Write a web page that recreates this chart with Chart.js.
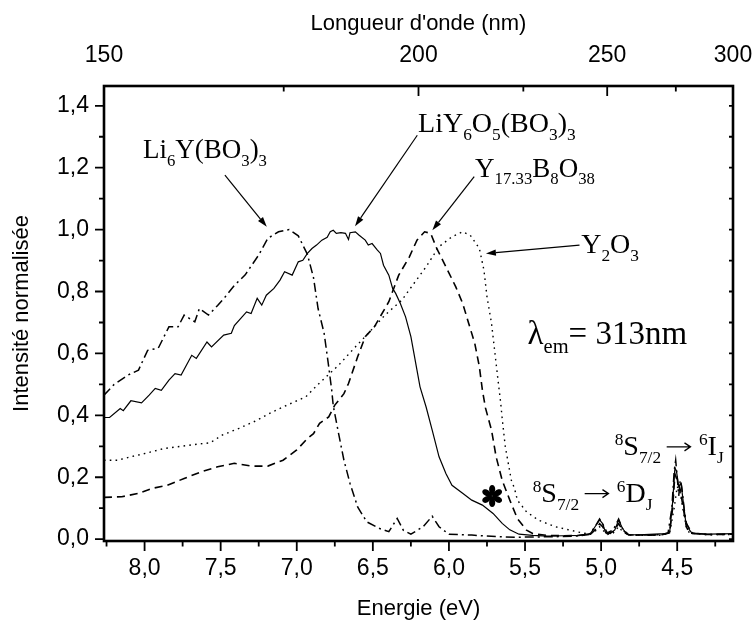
<!DOCTYPE html>
<html>
<head>
<meta charset="utf-8">
<script src="https://cdn.jsdelivr.net/npm/chart.js@4.4.1/dist/chart.umd.min.js"></script>
<style>
  html, body { margin: 0; padding: 0; background: #fff; }
  #wrap { width: 753px; height: 623px; }
</style>
</head>
<body>
<div id="wrap"><canvas id="c" width="753" height="623"></canvas></div>
<script>
// Excitation spectra (lambda_em = 313 nm), normalised intensity vs photon energy (eV)

// Li6Y(BO3)3  (dash-dot)
const liybEnergy = [8.267, 8.20, 8.11, 8.04, 7.98, 7.91, 7.84, 7.78, 7.74, 7.67,
  7.64, 7.58, 7.52, 7.47, 7.41, 7.34, 7.25, 7.19, 7.12, 7.05,
  6.99, 6.93, 6.89, 6.86, 6.82, 6.79, 6.77, 6.76, 6.725, 6.69,
  6.65, 6.60, 6.54, 6.46, 6.395, 6.34, 6.30, 6.25, 6.17, 6.11,
  6.065, 6.00, 5.85, 5.67, 5.56, 5.45, 5.30, 5.15, 5.08, 5.04,
  5.01, 4.99, 4.96, 4.92, 4.885, 4.86, 4.82, 4.70, 4.60, 4.56,
  4.535, 4.52, 4.51, 4.50, 4.49, 4.48, 4.47, 4.455, 4.44, 4.42,
  4.40, 4.30, 4.20, 4.133];
const liybIntensity = [0.465, 0.50, 0.53, 0.546, 0.61, 0.617, 0.686, 0.686, 0.724, 0.702,
  0.745, 0.724, 0.755, 0.783, 0.82, 0.853, 0.918, 0.972, 0.993, 1.0,
  0.98, 0.92, 0.845, 0.745, 0.665, 0.557, 0.48, 0.43, 0.341, 0.255,
  0.18, 0.104, 0.056, 0.035, 0.024, 0.067, 0.029, 0.016, 0.04, 0.074,
  0.04, 0.016, 0.013, 0.008, 0.006, 0.007, 0.008, 0.01, 0.015, 0.04,
  0.065, 0.05, 0.02, 0.03, 0.065, 0.035, 0.014, 0.013, 0.015, 0.02,
  0.10, 0.22, 0.255, 0.20, 0.14, 0.19, 0.17, 0.10, 0.05, 0.035,
  0.02, 0.015, 0.016, 0.017];

// LiY6O5(BO3)3  (solid)
const lyboEnergy = [8.267, 8.23, 8.16, 8.14, 8.09, 8.02, 7.97, 7.93, 7.89, 7.84,
  7.80, 7.76, 7.69, 7.66, 7.59, 7.56, 7.48, 7.43, 7.41, 7.33,
  7.30, 7.26, 7.23, 7.20, 7.15, 7.11, 7.08, 7.03, 6.99, 6.96,
  6.93, 6.90, 6.87, 6.835, 6.80, 6.78, 6.76, 6.74, 6.71, 6.68,
  6.66, 6.65, 6.615, 6.59, 6.55, 6.53, 6.505, 6.47, 6.45, 6.43,
  6.395, 6.37, 6.35, 6.32, 6.285, 6.25, 6.23, 6.21, 6.19, 6.15,
  6.11, 6.065, 6.02, 5.98, 5.91, 5.85, 5.78, 5.71, 5.65, 5.60,
  5.54, 5.45, 5.35, 5.25, 5.15, 5.07, 5.04, 5.01, 4.99, 4.97,
  4.94, 4.91, 4.885, 4.86, 4.83, 4.75, 4.65, 4.58, 4.55, 4.53,
  4.515, 4.505, 4.49, 4.475, 4.46, 4.445, 4.42, 4.40, 4.30, 4.20,
  4.133];
const lyboIntensity = [0.393, 0.393, 0.422, 0.415, 0.447, 0.44, 0.465, 0.487, 0.481, 0.514,
  0.535, 0.53, 0.594, 0.584, 0.637, 0.621, 0.659, 0.665, 0.69, 0.734,
  0.729, 0.778, 0.756, 0.788, 0.81, 0.837, 0.864, 0.853, 0.896, 0.901,
  0.923, 0.939, 0.95, 0.966, 0.975, 0.993, 0.998, 0.988, 0.99, 0.988,
  0.968, 0.99, 0.993, 0.982, 0.966, 0.95, 0.955, 0.934, 0.923, 0.885,
  0.853, 0.81, 0.794, 0.762, 0.718, 0.654, 0.60, 0.546, 0.492, 0.427,
  0.352, 0.266, 0.212, 0.174, 0.148, 0.126, 0.11, 0.083, 0.051, 0.03,
  0.016, 0.012, 0.01, 0.011, 0.012, 0.018, 0.04, 0.062, 0.05, 0.02,
  0.018, 0.03, 0.062, 0.035, 0.015, 0.014, 0.016, 0.018, 0.02, 0.12,
  0.23, 0.22, 0.17, 0.18, 0.12, 0.06, 0.03, 0.018, 0.016, 0.017,
  0.018];

// Y17.33B8O38  (dashed)
const ybEnergy = [8.267, 8.15, 8.04, 7.95, 7.85, 7.74, 7.63, 7.52, 7.41, 7.30,
  7.19, 7.09, 7.00, 6.93, 6.89, 6.85, 6.79, 6.75, 6.69, 6.66,
  6.60, 6.55, 6.49, 6.395, 6.33, 6.26, 6.21, 6.16, 6.12, 6.08,
  6.02, 5.955, 5.91, 5.87, 5.83, 5.80, 5.78, 5.76, 5.72, 5.69,
  5.65, 5.60, 5.55, 5.49, 5.45, 5.35, 5.25, 5.15, 5.07, 5.04,
  5.01, 4.99, 4.96, 4.92, 4.885, 4.86, 4.82, 4.70, 4.60, 4.55,
  4.53, 4.515, 4.50, 4.48, 4.46, 4.44, 4.42, 4.30, 4.20, 4.133];
const ybIntensity = [0.135, 0.137, 0.148, 0.164, 0.174, 0.196, 0.217, 0.234, 0.245, 0.236,
  0.236, 0.255, 0.288, 0.325, 0.341, 0.374, 0.395, 0.433, 0.47, 0.503,
  0.589, 0.654, 0.686, 0.767, 0.853, 0.912, 0.966, 0.993, 0.988, 0.939,
  0.88, 0.815, 0.762, 0.697, 0.632, 0.557, 0.481, 0.424, 0.352, 0.266,
  0.19, 0.126, 0.066, 0.029, 0.018, 0.012, 0.011, 0.012, 0.016, 0.03,
  0.05, 0.04, 0.018, 0.025, 0.05, 0.03, 0.014, 0.013, 0.014, 0.02,
  0.10, 0.21, 0.19, 0.16, 0.10, 0.04, 0.02, 0.015, 0.015, 0.016];

// Y2O3  (dotted)
const yoEnergy = [8.267, 8.18, 8.09, 7.98, 7.87, 7.76, 7.65, 7.57, 7.49, 7.38,
  7.27, 7.16, 7.05, 6.94, 6.86, 6.725, 6.615, 6.53, 6.42, 6.31,
  6.23, 6.15, 6.065, 5.98, 5.91, 5.86, 5.80, 5.77, 5.75, 5.72,
  5.70, 5.68, 5.66, 5.65, 5.63, 5.61, 5.59, 5.57, 5.55, 5.49,
  5.41, 5.30, 5.16, 5.08, 5.04, 5.01, 4.99, 4.96, 4.92, 4.885,
  4.86, 4.82, 4.70, 4.60, 4.55, 4.52, 4.50, 4.48, 4.46, 4.44,
  4.42, 4.30, 4.20, 4.133];
const yoIntensity = [0.255, 0.255, 0.266, 0.279, 0.293, 0.30, 0.307, 0.311, 0.336, 0.358,
  0.382, 0.411, 0.436, 0.46, 0.50, 0.562, 0.621, 0.665, 0.724, 0.772,
  0.826, 0.88, 0.945, 0.977, 0.993, 0.982, 0.939, 0.869, 0.783, 0.697,
  0.611, 0.524, 0.44, 0.39, 0.30, 0.245, 0.19, 0.165, 0.126, 0.088,
  0.061, 0.04, 0.024, 0.016, 0.025, 0.04, 0.03, 0.015, 0.02, 0.04,
  0.025, 0.013, 0.012, 0.013, 0.02, 0.10, 0.17, 0.15, 0.09, 0.04,
  0.02, 0.014, 0.015, 0.015];

// Axis ticks
const energyTicks = [4.5, 5.0, 5.5, 6.0, 6.5, 7.0, 7.5, 8.0];
const energyMinor = [4.25, 4.75, 5.25, 5.75, 6.25, 6.75, 7.25, 7.75, 8.25];
const waveTicks = [150, 200, 250, 300];
const waveMinor = [175, 225, 275];
const intensityTicks = [0, 0.2, 0.4, 0.6, 0.8, 1.0, 1.2, 1.4];
const intensityMinor = [0.1, 0.3, 0.5, 0.7, 0.9, 1.1, 1.3];

const HC = 1240; // eV*nm
const E_MIN = HC / 300, E_MAX = HC / 150;
const I_MIN = -0.006, I_MAX = 1.464;

const SANS = '"Liberation Sans", Arial, sans-serif';
const SERIF = '"Liberation Serif", "Times New Roman", serif';

const pts = (xs, ys) => xs.map((x, i) => ({ x, y: ys[i] }));
const comma = v => Number(v).toFixed(1).replace('.', ',');

// Text labels and arrows, placed in data coordinates (E, I)
const notes = [
  { at: [8.011, 1.230], size: 27, parts: [['Li'], ['6', 'sub'], ['Y(BO'], ['3', 'sub'], [')'], ['3', 'sub']] },
  { at: [6.203, 1.316], size: 28, parts: [['LiY'], ['6', 'sub'], ['O'], ['5', 'sub'], ['(BO'], ['3', 'sub'], [')'], ['3', 'sub']] },
  { at: [5.828, 1.171], size: 27, parts: [['Y'], ['17.33', 'sub'], ['B'], ['8', 'sub'], ['O'], ['38', 'sub']] },
  { at: [5.131, 0.923], size: 28, parts: [['Y'], ['2', 'sub'], ['O'], ['3', 'sub']] },
  { at: [5.483, 0.632], size: 33, parts: [['λ'], ['em', 'sub'], ['= 313nm']] },
  { at: [5.450, 0.120], size: 28, parts: [['8', 'sup'], ['S'], ['7/2', 'sub'], ['', 'arrow'], ['6', 'sup'], ['D'], ['J', 'sub']] },
  { at: [4.911, 0.271], size: 28, parts: [['8', 'sup'], ['S'], ['7/2', 'sub'], ['', 'arrow'], ['6', 'sup'], ['I'], ['J', 'sub']] }
];
const arrows = [
  { from: [7.472, 1.176], to: [7.197, 1.009] },
  { from: [6.208, 1.305], to: [6.617, 1.011] },
  { from: [5.834, 1.171], to: [6.109, 0.998] },
  { from: [5.142, 0.950], to: [5.757, 0.923] }
];
const starAt = [5.716, 0.139];

function drawRich(ctx, x, y, parts, size) {
  let cx = x;
  for (const [t, kind] of parts) {
    if (kind === 'arrow') {
      // long right arrow between the two terms
      const w = size * 1.35, ay = y - size * 0.3;
      const x0 = cx + size * 0.2, x1 = cx + w - size * 0.3;
      ctx.save();
      ctx.lineWidth = 1.3;
      ctx.beginPath();
      ctx.moveTo(x0, ay); ctx.lineTo(x1, ay);
      ctx.moveTo(x1 - 6, ay - 4); ctx.lineTo(x1, ay); ctx.lineTo(x1 - 6, ay + 4);
      ctx.stroke();
      ctx.restore();
      cx += w;
      continue;
    }
    const s = kind ? size * 0.62 : size;
    ctx.font = s + 'px ' + SERIF;
    const dy = kind === 'sub' ? size * 0.28 : kind === 'sup' ? -size * 0.36 : 0;
    ctx.fillText(t, cx, y + dy);
    cx += ctx.measureText(t).width;
  }
}

function drawArrow(ctx, x1, y1, x2, y2) {
  const ang = Math.atan2(y2 - y1, x2 - x1);
  const L = 10, W = 3.2;
  const bx = x2 - L * Math.cos(ang), by = y2 - L * Math.sin(ang);
  ctx.beginPath();
  ctx.moveTo(x1, y1);
  ctx.lineTo(bx, by);
  ctx.stroke();
  ctx.beginPath();
  ctx.moveTo(x2, y2);
  ctx.lineTo(bx + W * Math.sin(ang), by - W * Math.cos(ang));
  ctx.lineTo(bx - W * Math.sin(ang), by + W * Math.cos(ang));
  ctx.closePath();
  ctx.fill();
}

function drawStar(ctx, cx, cy) {
  ctx.save();
  ctx.translate(cx, cy);
  for (let k = 0; k < 6; k++) {
    ctx.save();
    ctx.rotate(k * Math.PI / 3);
    ctx.beginPath();
    ctx.moveTo(0, 0);
    ctx.bezierCurveTo(-4.4, -4, -3.8, -11, 0, -11);
    ctx.bezierCurveTo(3.8, -11, 4.4, -4, 0, 0);
    ctx.fill();
    ctx.restore();
  }
  ctx.restore();
}

const notesPlugin = {
  id: 'notes',
  afterDatasetsDraw(chart) {
    const { ctx, scales: { x, y } } = chart;
    ctx.save();
    ctx.fillStyle = '#000';
    ctx.strokeStyle = '#000';
    ctx.lineWidth = 1.2;
    ctx.textBaseline = 'alphabetic';
    ctx.textAlign = 'left';
    for (const n of notes) {
      drawRich(ctx, x.getPixelForValue(n.at[0]), y.getPixelForValue(n.at[1]), n.parts, n.size);
    }
    for (const a of arrows) {
      drawArrow(ctx, x.getPixelForValue(a.from[0]), y.getPixelForValue(a.from[1]),
        x.getPixelForValue(a.to[0]), y.getPixelForValue(a.to[1]));
    }
    drawStar(ctx, x.getPixelForValue(starAt[0]), y.getPixelForValue(starAt[1]));
    ctx.restore();
  }
};

const framePlugin = {
  id: 'frame',
  afterDraw(chart) {
    const { ctx, chartArea: a, scales: { x, y } } = chart;
    ctx.save();
    ctx.strokeStyle = '#000';
    ctx.lineWidth = 1.8;
    ctx.beginPath();
    // bottom: outward
    for (const v of energyTicks) { const p = x.getPixelForValue(v); ctx.moveTo(p, a.bottom); ctx.lineTo(p, a.bottom + 10); }
    for (const v of energyMinor) { const p = x.getPixelForValue(v); ctx.moveTo(p, a.bottom); ctx.lineTo(p, a.bottom + 5.5); }
    // top: inward
    for (const w of waveTicks) { const p = x.getPixelForValue(HC / w); ctx.moveTo(p, a.top); ctx.lineTo(p, a.top + 10); }
    for (const w of waveMinor) { const p = x.getPixelForValue(HC / w); ctx.moveTo(p, a.top); ctx.lineTo(p, a.top + 5.5); }
    // left: outward
    for (const v of intensityTicks) { const p = y.getPixelForValue(v); ctx.moveTo(a.left, p); ctx.lineTo(a.left - 9, p); }
    for (const v of intensityMinor) { const p = y.getPixelForValue(v); ctx.moveTo(a.left, p); ctx.lineTo(a.left - 5, p); }
    // right: inward
    for (const v of intensityTicks.concat(intensityMinor)) { const p = y.getPixelForValue(v); ctx.moveTo(a.right, p); ctx.lineTo(a.right - 4, p); }
    ctx.stroke();
    ctx.lineWidth = 2.6;
    ctx.strokeRect(a.left, a.top, a.right - a.left, a.bottom - a.top);
    ctx.restore();
  }
};

const lineSet = (label, xs, ys, dash, width) => ({
  label,
  data: pts(xs, ys),
  borderColor: '#000',
  borderWidth: width,
  borderDash: dash,
  pointRadius: 0,
  tension: 0,
  fill: false
});

const tickFont = { family: SANS, size: 23 };
const titleFont = { family: SANS, size: 22 };
const noSidePad = s => { s.paddingLeft = 0; s.paddingRight = 0; };

new Chart(document.getElementById('c'), {
  type: 'line',
  data: {
    datasets: [
      lineSet('Y2O3', yoEnergy, yoIntensity, [1.6, 4.2], 1.4),
      lineSet('Y17.33B8O38', ybEnergy, ybIntensity, [8, 5], 1.6),
      lineSet('Li6Y(BO3)3', liybEnergy, liybIntensity, [9, 4, 2, 4], 1.5),
      lineSet('LiY6O5(BO3)3', lyboEnergy, lyboIntensity, [], 1.2)
    ]
  },
  options: {
    responsive: false,
    animation: false,
    devicePixelRatio: 1,
    layout: { padding: { left: 0, right: 20, top: 0, bottom: 0 } },
    plugins: { legend: { display: false }, tooltip: { enabled: false } },
    scales: {
      x: {
        type: 'linear', position: 'bottom', reverse: true, min: E_MIN, max: E_MAX,
        grid: { display: false, drawTicks: false, tickLength: 0 },
        border: { display: false },
        afterBuildTicks: s => { s.ticks = energyTicks.map(v => ({ value: v })); },
        ticks: { autoSkip: false, maxRotation: 0, minRotation: 0, padding: 14, color: '#000', font: tickFont, callback: v => comma(v) },
        title: { display: true, text: 'Energie (eV)', color: '#000', font: titleFont, padding: { top: 0, bottom: 1 } },
        afterFit: s => { s.height = 82; noSidePad(s); }
      },
      x2: {
        type: 'linear', axis: 'x', position: 'top', reverse: true, min: E_MIN, max: E_MAX,
        grid: { display: false, drawTicks: false, tickLength: 0 },
        border: { display: false },
        afterBuildTicks: s => { s.ticks = waveTicks.map(w => ({ value: HC / w })); },
        ticks: { autoSkip: false, maxRotation: 0, minRotation: 0, padding: 17, color: '#000', font: tickFont, callback: v => String(Math.round(HC / v)) },
        title: { display: true, text: "Longueur d'onde (nm)", color: '#000', font: titleFont, padding: { top: 11, bottom: 0 } },
        afterFit: s => { s.height = 86; noSidePad(s); }
      },
      y: {
        type: 'linear', position: 'left', min: I_MIN, max: I_MAX,
        grid: { display: false, drawTicks: false, tickLength: 0 },
        border: { display: false },
        afterBuildTicks: s => { s.ticks = intensityTicks.map(v => ({ value: v })); },
        ticks: { autoSkip: false, padding: 15, color: '#000', font: tickFont, callback: v => comma(v) },
        title: { display: true, text: 'Intensité normalisée', color: '#000', font: titleFont, padding: { top: 9, bottom: 0 } },
        afterFit: s => { s.width = 104; }
      }
    }
  },
  plugins: [notesPlugin, framePlugin]
});
</script>
</body>
</html>
